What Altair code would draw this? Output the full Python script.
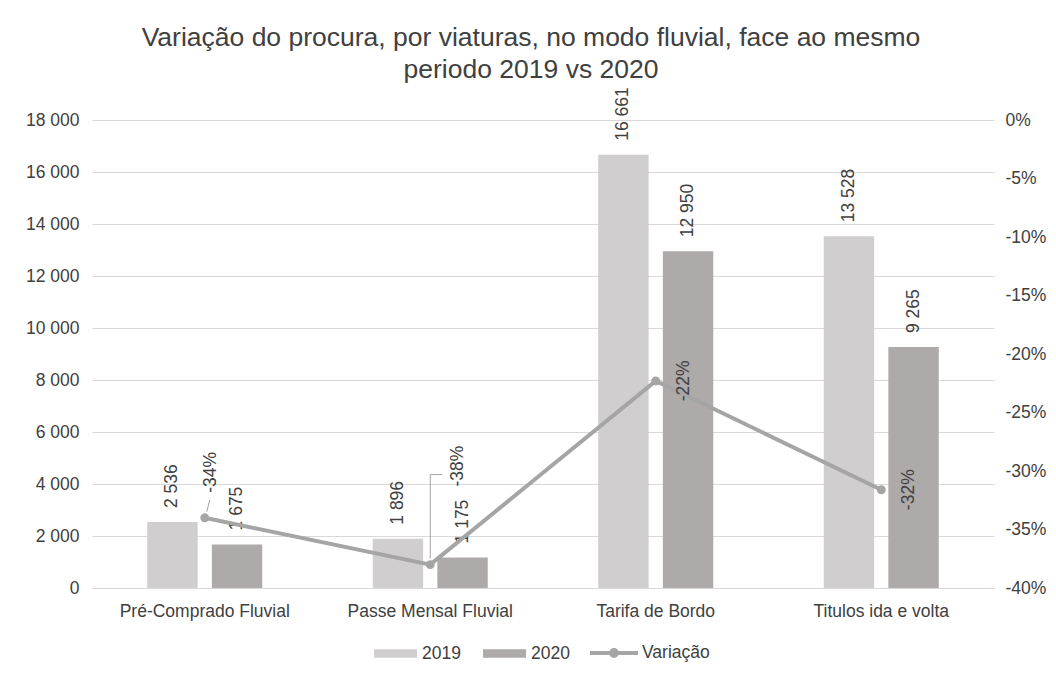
import altair as alt
import pandas as pd

# ---- data ----
categorias = ["Pré-Comprado Fluvial", "Passe Mensal Fluvial", "Tarifa de Bordo", "Titulos ida e volta"]
anos = ["2019", "2020"]
valores_2019 = [2536, 1896, 16661, 13528]
valores_2020 = [1675, 1175, 12950, 9265]
variacao = [-0.34, -0.38, -0.223, -0.316]
serie_linha = ["Variação"]
y_ticks = [0, 2000, 4000, 6000, 8000, 10000, 12000, 14000, 16000, 18000]
pct_ticks = [0, -0.05, -0.10, -0.15, -0.20, -0.25, -0.30, -0.35, -0.40]
titulo = ["Variação do procura, por viaturas, no modo fluvial, face ao mesmo",
          "periodo 2019 vs 2020"]

FONT = "Liberation Sans"
TXT = "#404040"
C2019, C2020, CLINE = "#D0CECE", "#AEAAAA", "#A5A5A5"
GRID = "#D9D9D9"
FS = 17.5


def fmt_int(v):
    return f"{v:,}".replace(",", " ")


rows = []
for c, a, b in zip(categorias, valores_2019, valores_2020):
    rows.append({"categoria": c, "ano": "2019", "valor": a, "rotulo": fmt_int(a)})
    rows.append({"categoria": c, "ano": "2020", "valor": b, "rotulo": fmt_int(b)})
bars_df = pd.DataFrame(rows)

line_df = pd.DataFrame({
    "categoria": categorias,
    "variacao": variacao,
    "serie": serie_linha * len(categorias),
    "rotulo": [f"{round(v * 100):d}%" for v in variacao],
})

x_enc = alt.X(
    "categoria:N", sort=categorias,
    scale=alt.Scale(paddingInner=0.49, paddingOuter=0.245),
    axis=alt.Axis(title=None, labelAngle=0, labelFontSize=FS, labelColor=TXT, labelFont=FONT,
                  labelPadding=14, ticks=False, domainColor=GRID, domainWidth=1),
)
xoff_enc = alt.XOffset("ano:N", sort=anos, scale=alt.Scale(paddingInner=0.22))

y_val = alt.Y(
    "valor:Q", scale=alt.Scale(domain=[0, 18000], nice=False),
    axis=alt.Axis(title=None, values=y_ticks, orient="left", labelFontSize=FS, labelColor=TXT,
                  labelFont=FONT, labelPadding=13, ticks=False, domain=False,
                  gridColor=GRID, gridWidth=1,
                  labelExpr="replace(format(datum.value, ','), /,/g, ' ')"),
)
y_pct = alt.Y(
    "variacao:Q", scale=alt.Scale(domain=[-0.4, 0], nice=False),
    axis=alt.Axis(title=None, values=pct_ticks, orient="right", labelFontSize=FS, labelColor=TXT,
                  labelFont=FONT, labelPadding=11, ticks=False, domain=False, grid=False,
                  labelExpr="replace(format(datum.value, '.0%'), '−', '-')"),
)

base_b = alt.Chart(bars_df)
bars = base_b.mark_bar().encode(
    x=x_enc, xOffset=xoff_enc, y=y_val,
    fill=alt.Fill("ano:N", scale=alt.Scale(domain=anos, range=[C2019, C2020]),
                  legend=alt.Legend(title=None, orient="none", legendX=282, legendY=512,
                                    direction="horizontal",
                                    symbolType="M-1,-0.2H1V0.2H-1Z", symbolSize=1849,
                                    symbolStrokeWidth=0, labelFontSize=FS, labelColor=TXT,
                                    labelFont=FONT, labelOffset=5, columnPadding=22, padding=0)),
)
bar_text = base_b.mark_text(angle=270, align="left", baseline="middle", dx=14,
                            fontSize=FS, font=FONT, color=TXT).encode(
    x=x_enc, xOffset=xoff_enc, y=y_val, text="rotulo:N")

bar_group = alt.layer(bars, bar_text)

base_l = alt.Chart(line_df)
line = base_l.mark_line(strokeWidth=4).encode(
    x=x_enc, y=y_pct,
    stroke=alt.Stroke("serie:N", scale=alt.Scale(domain=serie_linha, range=[CLINE]),
                      legend=alt.Legend(title=None, orient="none", legendX=496, legendY=507,
                                        direction="horizontal",
                                        symbolType="M-1,0H1M-0.12,0A0.12,0.12 0 1,1 0.12,0A0.12,0.12 0 1,1 -0.12,0",
                                        symbolSize=2304, symbolStrokeWidth=4,
                                        labelFontSize=FS, labelColor=TXT, labelFont=FONT,
                                        labelOffset=2, padding=0)),
)
points = base_l.mark_circle(size=80, color=CLINE, opacity=1).encode(x=x_enc, y=y_pct)

lab_right = base_l.transform_filter(
    alt.FieldOneOfPredicate(field="categoria", oneOf=categorias[2:])
).mark_text(angle=270, align="center", baseline="middle", dy=28, fontSize=FS, font=FONT,
            color=TXT).encode(x=x_enc, y=y_pct, text="rotulo:N")
lab_a = base_l.transform_filter(
    alt.FieldEqualPredicate(field="categoria", equal=categorias[0])
).mark_text(angle=270, align="left", baseline="middle", dx=25, dy=6, fontSize=FS, font=FONT,
            color=TXT).encode(x=x_enc, y=y_pct, text="rotulo:N")
lab_b = base_l.transform_filter(
    alt.FieldEqualPredicate(field="categoria", equal=categorias[1])
).mark_text(angle=270, align="left", baseline="middle", dx=78, dy=28, fontSize=FS, font=FONT,
            color=TXT).encode(x=x_enc, y=y_pct, text="rotulo:N")

lead_a = base_l.transform_filter(
    alt.FieldEqualPredicate(field="categoria", equal=categorias[0])
).mark_rule(color=CLINE, strokeWidth=1, xOffset=2, x2Offset=5, yOffset=-6, y2Offset=-18).encode(
    x=x_enc, x2="categoria:N", y=y_pct, y2="variacao:Q")
lead_b1 = base_l.transform_filter(
    alt.FieldEqualPredicate(field="categoria", equal=categorias[1])
).mark_rule(color=CLINE, strokeWidth=1, yOffset=-6, y2Offset=-90).encode(
    x=x_enc, y=y_pct, y2="variacao:Q")
lead_b2 = base_l.transform_filter(
    alt.FieldEqualPredicate(field="categoria", equal=categorias[1])
).mark_rule(color=CLINE, strokeWidth=1, x2Offset=12, yOffset=-90, y2Offset=-90).encode(
    x=x_enc, x2="categoria:N", y=y_pct, y2="variacao:Q")

line_group = alt.layer(lead_a, lead_b1, lead_b2, line, points, lab_right, lab_a, lab_b)

chart = alt.layer(bar_group, line_group).resolve_scale(
    y="independent", fill="independent", stroke="independent"
).properties(
    width=902, height=468,
    autosize=alt.AutoSizeParams(type="none"),
    padding={"left": 84, "top": 112, "right": 54, "bottom": 77},
    title=alt.TitleParams(text=titulo, fontSize=26.5, font=FONT, color=TXT, fontWeight="normal",
                          anchor="middle", lineHeight=32, dx=-12),
).configure(background="white", view=alt.ViewConfig(stroke=None))

chart.save("out.html", embed_options={"renderer": "svg", "actions": False})
